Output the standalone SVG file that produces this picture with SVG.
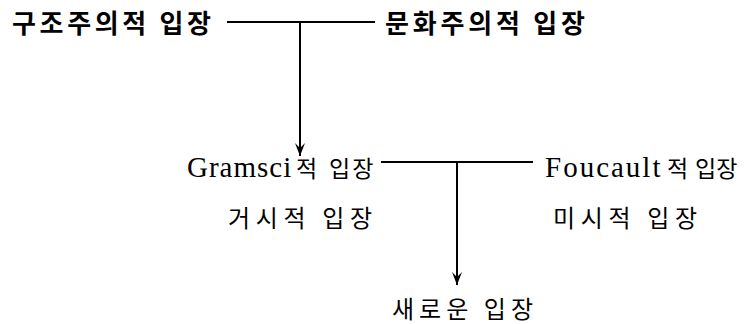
<svg xmlns="http://www.w3.org/2000/svg" width="744" height="324" viewBox="0 0 744 324">
<style>
.k{font-family:"Noto Sans CJK KR","Noto Sans",sans-serif;fill:#000}
.b{font-weight:bold;font-size:26px}
.m{font-size:24px}
.r{font-size:23px}
.s{font-family:"Liberation Serif",serif;font-size:29px}
.ln{stroke:#000;stroke-width:2;fill:none}
</style>
<defs>
<marker id="ah" markerWidth="14" markerHeight="10" refX="13" refY="5" orient="auto" markerUnits="userSpaceOnUse" viewBox="0 0 14 10">
<path d="M0,0 L13,5 L0,10 L5,5 Z" fill="#000"/>
</marker>
</defs>
<rect width="744" height="324" fill="#fff"/>
<g id="connectors">
<line class="ln" x1="227" y1="22" x2="375" y2="22"/>
<line class="ln" x1="300" y1="22" x2="300" y2="156" marker-end="url(#ah)"/>
<line class="ln" x1="381" y1="162" x2="533" y2="162"/>
<line class="ln" x1="457" y1="162" x2="457" y2="285" marker-end="url(#ah)"/>
</g>
<g id="n1"><text class="k b" x="12" y="33" textLength="199" lengthAdjust="spacing">구조주의적 입장</text></g>
<g id="n2"><text class="k b" x="385" y="33" textLength="200" lengthAdjust="spacing">문화주의적 입장</text></g>
<g id="n3"><text class="k r" y="177"><tspan class="s" x="187" letter-spacing="1">Gramsci</tspan><tspan x="296">적</tspan><tspan x="329" letter-spacing="2">입장</tspan></text></g>
<g id="n4"><text class="k m" x="228" y="227" textLength="144" lengthAdjust="spacing">거시적 입장</text></g>
<g id="n5"><text class="k r" y="177"><tspan class="s" x="545" letter-spacing="2">Foucault</tspan><tspan x="667">적</tspan><tspan x="695">입장</tspan></text></g>
<g id="n6"><text class="k m" x="553" y="227" textLength="144" lengthAdjust="spacing">미시적 입장</text></g>
<g id="n7"><text class="k m" x="392" y="318" textLength="141" lengthAdjust="spacing">새로운 입장</text></g>
</svg>
